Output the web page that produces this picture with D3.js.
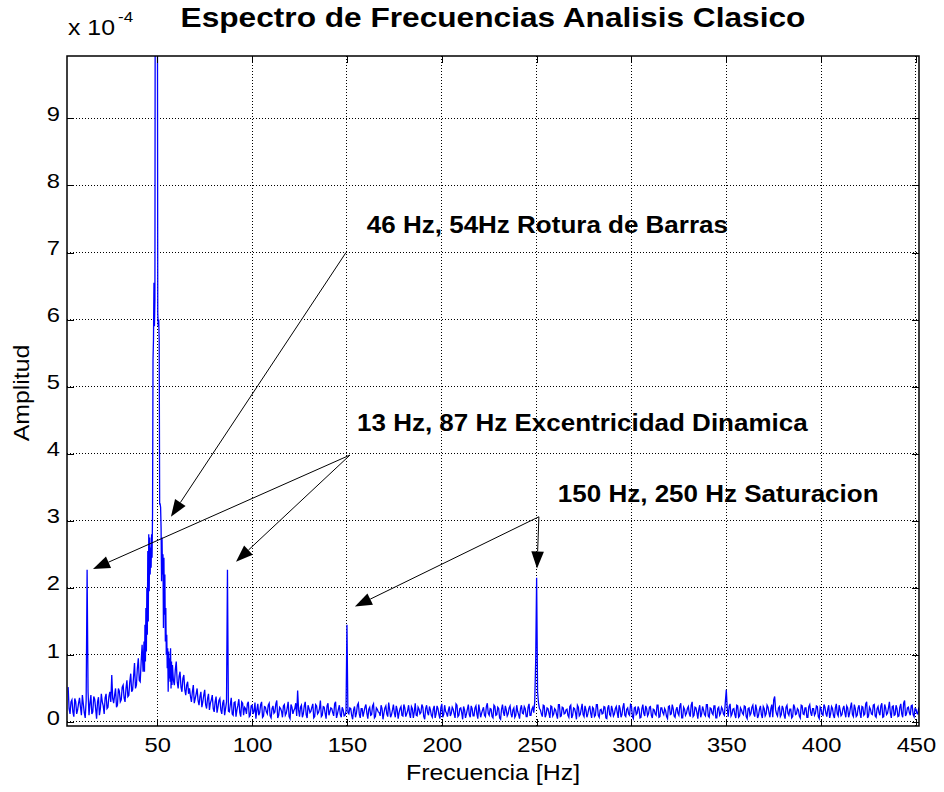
<!DOCTYPE html>
<html>
<head>
<meta charset="utf-8">
<script src="https://cdn.jsdelivr.net/npm/d3@7"></script>
<style>
    body { margin: 0; background: #fff; }
    text { font-family: "Liberation Sans", Arial, sans-serif; fill: #000; }
</style>
</head>
<body>
<svg id="vis" width="944" height="792"></svg>
<script>

////////// data //////////

// axis limits and ticks (amplitude in units of 1e-4)
var xLimits = [2.4, 451.6];
var yLimits = [-0.06, 9.93];
var xTicks = [50, 100, 150, 200, 250, 300, 350, 400, 450];
var yTicks = [0, 1, 2, 3, 4, 5, 6, 7, 8, 9];

// spectrum below the supply peak, 1 Hz bins from 3 Hz
var lowStartHz = 3;
var lowAmp = [
    0.52, 0.12, 0.33, 0.08, 0.30, 0.18, 0.36, 0.10, 0.27, 0.06,
    2.27, 0.10, 0.40, 0.15, 0.34, 0.05, 0.37, 0.20, 0.30, 0.12,
    0.42, 0.22, 0.45, 0.70, 0.28, 0.50, 0.25, 0.46, 0.33, 0.55,
    0.30, 0.62, 0.40, 0.72, 0.48, 0.88, 0.55, 0.95, 0.60, 1.15
];
// same range, the half-Hz bins from 3.5 Hz
var lowMidStartHz = 3.5;
var lowMidAmp = [
    0.20, 0.30, 0.15, 0.35, 0.12, 0.28, 0.22, 0.40, 0.14, 0.32,
    0.45, 0.28, 0.12, 0.38, 0.20, 0.30, 0.10, 0.42, 0.24, 0.36,
    0.20, 0.38, 0.30, 0.35, 0.40, 0.22, 0.50, 0.30, 0.52, 0.36,
    0.50, 0.38, 0.60, 0.45, 0.68, 0.50, 0.80, 0.62, 0.90, 0.75
];

// supply peak region, 0.25 Hz bins from 43 Hz
var peakStartHz = 43, peakStepHz = 0.25;
var peakAmp = [
    1.20, 0.75, 1.45, 0.90, 1.70, 1.05, 2.00, 1.30,
    2.55, 1.50, 2.80, 1.95, 2.75, 2.20, 2.60, 2.30,
    2.80, 2.45, 3.10, 5.40, 5.70, 6.55, 5.90, 6.30,
    14.0, 22.0, 25.0, 20.0, 13.0, 6.10, 5.90, 6.00,
    5.70, 3.25, 3.25, 3.20, 2.90, 2.10, 2.75, 2.20,
    2.50, 1.40, 2.45, 1.60, 2.20, 1.20, 1.70, 1.00,
    1.30, 0.80, 1.10, 0.45, 1.05, 0.65, 0.95, 0.60,
    1.10, 0.50, 0.90, 0.55
];

// rest of the spectrum, 1 Hz bins from 58 Hz
var highStartHz = 58;
var highAmp = [
    0.85, 0.55, 0.90, 0.50, 0.75, 0.45, 0.70, 0.40, 0.60, 0.50,
    0.30, 0.55, 0.35, 0.50, 0.25, 0.45, 0.30, 0.48, 0.20, 0.42,
    0.28, 0.40, 0.15, 0.38, 0.22, 0.35, 0.12, 0.33, 0.20, 2.27,
    0.15, 0.36, 0.10, 0.30, 0.18, 0.34, 0.08, 0.28, 0.22, 0.12,
    0.30, 0.10, 0.25, 0.16, 0.05, 0.27, 0.14, 0.30, 0.09, 0.22,
    0.12, 0.28, 0.06, 0.24, 0.15, 0.32, 0.10, 0.20, 0.07, 0.26,
    0.13, 0.30, 0.05, 0.22, 0.17, 0.28, 0.47, 0.08, 0.25, 0.12,
    0.30, 0.06, 0.20, 0.16, 0.27, 0.08, 0.24, 0.14, 0.32, 0.10,
    0.22, 0.05, 0.28, 0.15, 0.20, 0.09, 0.30, 0.12, 0.25, 0.07,
    0.18, 0.10, 1.45, 0.12, 0.20, 0.04, 0.23, 0.13, 0.28, 0.06,
    0.20, 0.15, 0.26, 0.05, 0.22, 0.11, 0.27, 0.08, 0.19, 0.14,
    0.25, 0.04, 0.21, 0.12, 0.29, 0.07, 0.18, 0.13, 0.24, 0.05,
    0.20, 0.10, 0.26, 0.08, 0.17, 0.12, 0.23, 0.06, 0.28, 0.09,
    0.19, 0.14, 0.22, 0.04, 0.25, 0.10, 0.18, 0.07, 0.24, 0.12,
    0.20, 0.05, 0.27, 0.11, 0.16, 0.08, 0.23, 0.13, 0.19, 0.06,
    0.25, 0.10, 0.21, 0.04, 0.18, 0.12, 0.26, 0.07, 0.20, 0.09,
    0.24, 0.05, 0.17, 0.13, 0.22, 0.08, 0.28, 0.10, 0.19, 0.06,
    0.23, 0.11, 0.20, 0.04, 0.26, 0.09, 0.18, 0.12, 0.24, 0.07,
    0.21, 0.10, 0.16, 0.05, 0.25, 0.12, 0.20, 0.08, 0.27, 0.10,
    0.22, 0.30, 2.15, 0.28, 0.18, 0.08, 0.24, 0.11, 0.20, 0.06,
    0.23, 0.12, 0.18, 0.05, 0.26, 0.09, 0.21, 0.13, 0.19, 0.07,
    0.25, 0.10, 0.20, 0.04, 0.22, 0.11, 0.27, 0.08, 0.18, 0.12,
    0.24, 0.06, 0.20, 0.10, 0.26, 0.07, 0.19, 0.13, 0.22, 0.05,
    0.25, 0.09, 0.18, 0.12, 0.23, 0.06, 0.20, 0.11, 0.28, 0.08,
    0.21, 0.10, 0.24, 0.05, 0.22, 0.13, 0.19, 0.07, 0.26, 0.09,
    0.20, 0.12, 0.23, 0.06, 0.18, 0.10, 0.25, 0.08, 0.21, 0.11,
    0.17, 0.05, 0.24, 0.12, 0.20, 0.07, 0.22, 0.10, 0.28, 0.06,
    0.19, 0.13, 0.23, 0.08, 0.30, 0.10, 0.21, 0.05, 0.25, 0.12,
    0.18, 0.09, 0.26, 0.07, 0.20, 0.11, 0.24, 0.06, 0.22, 0.13,
    0.19, 0.10, 0.48, 0.08, 0.27, 0.12, 0.20, 0.06, 0.24, 0.09,
    0.18, 0.11, 0.23, 0.05, 0.21, 0.13, 0.25, 0.08, 0.19, 0.10,
    0.24, 0.06, 0.20, 0.12, 0.22, 0.07, 0.26, 0.33, 0.18, 0.09,
    0.23, 0.11, 0.20, 0.05, 0.25, 0.10, 0.19, 0.08, 0.22, 0.12,
    0.18, 0.06, 0.24, 0.11, 0.21, 0.07, 0.26, 0.09, 0.20, 0.13,
    0.23, 0.05, 0.19, 0.10, 0.22, 0.08, 0.25, 0.12, 0.20, 0.06,
    0.27, 0.09, 0.18, 0.11, 0.24, 0.07, 0.21, 0.13, 0.29, 0.08,
    0.20, 0.10, 0.25, 0.06, 0.22, 0.12, 0.30, 0.09, 0.19, 0.11,
    0.26, 0.07, 0.23, 0.10, 0.28, 0.08, 0.21, 0.13, 0.30, 0.06,
    0.24, 0.11, 0.20, 0.09, 0.27, 0.07, 0.32, 0.12, 0.22, 0.10,
    0.25, 0.08, 0.19, 0.12
];
// same range, the half-Hz bins from 58.5 Hz
var highMidStartHz = 58.5;
var highMidAmp = [
    0.62, 0.78, 0.60, 0.68, 0.52, 0.65, 0.48, 0.55, 0.42, 0.38,
    0.45, 0.28, 0.42, 0.32, 0.38, 0.22, 0.40, 0.26, 0.35, 0.18,
    0.33, 0.20, 0.30, 0.14, 0.32, 0.18, 0.28, 0.10, 0.30, 0.16,
    0.26, 0.12, 0.29, 0.08, 0.25, 0.14, 0.30, 0.10, 0.20, 0.27,
    0.08, 0.24, 0.12, 0.29, 0.18, 0.10, 0.26, 0.07, 0.23, 0.15,
    0.25, 0.09, 0.20, 0.13, 0.27, 0.06, 0.22, 0.16, 0.24, 0.10,
    0.21, 0.08, 0.26, 0.12, 0.20, 0.09, 0.18, 0.22, 0.07, 0.24,
    0.11, 0.25, 0.14, 0.22, 0.06, 0.26, 0.12, 0.20, 0.08, 0.23,
    0.13, 0.24, 0.10, 0.21, 0.14, 0.27, 0.06, 0.19, 0.11, 0.22,
    0.09, 0.16, 0.14, 0.21, 0.10, 0.18, 0.07, 0.25, 0.12, 0.20,
    0.08, 0.22, 0.13, 0.19, 0.10, 0.24, 0.06, 0.21, 0.15, 0.09,
    0.20, 0.13, 0.24, 0.08, 0.19, 0.11, 0.26, 0.07, 0.18, 0.14,
    0.23, 0.09, 0.21, 0.12, 0.25, 0.06, 0.20, 0.15, 0.10, 0.22,
    0.12, 0.26, 0.08, 0.20, 0.14, 0.23, 0.10, 0.19, 0.06, 0.24,
    0.11, 0.21, 0.07, 0.25, 0.13, 0.18, 0.09, 0.22, 0.12, 0.27,
    0.08, 0.20, 0.14, 0.23, 0.06, 0.19, 0.11, 0.24, 0.09, 0.21,
    0.12, 0.26, 0.07, 0.18, 0.10, 0.23, 0.13, 0.20, 0.08, 0.25,
    0.10, 0.22, 0.06, 0.19, 0.14, 0.24, 0.09, 0.21, 0.12, 0.18,
    0.07, 0.25, 0.11, 0.20, 0.13, 0.23, 0.08, 0.22, 0.10, 0.19,
    0.14, 0.90, 0.45, 0.20, 0.12, 0.25, 0.07, 0.21, 0.13, 0.24,
    0.09, 0.20, 0.11, 0.26, 0.08, 0.22, 0.12, 0.18, 0.10, 0.23,
    0.06, 0.21, 0.14, 0.25, 0.09, 0.19, 0.11, 0.24, 0.07, 0.20,
    0.13, 0.22, 0.08, 0.26, 0.10, 0.18, 0.12, 0.23, 0.06, 0.21,
    0.11, 0.24, 0.09, 0.20, 0.14, 0.25, 0.07, 0.22, 0.10, 0.19,
    0.12, 0.26, 0.08, 0.21, 0.11, 0.23, 0.06, 0.20, 0.13, 0.24,
    0.09, 0.22, 0.10, 0.19, 0.12, 0.25, 0.07, 0.21, 0.14, 0.20,
    0.08, 0.23, 0.11, 0.26, 0.09, 0.18, 0.13, 0.24, 0.06, 0.22,
    0.10, 0.20, 0.12, 0.25, 0.08, 0.22, 0.14, 0.19, 0.07, 0.23,
    0.11, 0.26, 0.09, 0.21, 0.13, 0.24, 0.06, 0.20, 0.10, 0.22,
    0.12, 0.30, 0.20, 0.23, 0.09, 0.19, 0.11, 0.25, 0.07, 0.21,
    0.13, 0.24, 0.08, 0.20, 0.10, 0.22, 0.12, 0.26, 0.06, 0.19,
    0.11, 0.23, 0.09, 0.25, 0.14, 0.20, 0.07, 0.38, 0.12, 0.21,
    0.08, 0.24, 0.10, 0.22, 0.13, 0.19, 0.06, 0.26, 0.11, 0.20,
    0.09, 0.25, 0.12, 0.21, 0.07, 0.23, 0.14, 0.20, 0.10, 0.24,
    0.08, 0.22, 0.11, 0.26, 0.13, 0.19, 0.06, 0.23, 0.10, 0.21,
    0.12, 0.25, 0.09, 0.20, 0.14, 0.24, 0.07, 0.22, 0.11, 0.26,
    0.08, 0.21, 0.13, 0.23, 0.10, 0.27, 0.06, 0.22, 0.12, 0.25,
    0.09, 0.20, 0.14, 0.24, 0.07, 0.26, 0.11, 0.21, 0.13, 0.23,
    0.10, 0.25, 0.08, 0.22, 0.12, 0.28, 0.09, 0.21, 0.14, 0.24,
    0.11, 0.20, 0.13, 0.22
];

// annotations (data coordinates)
var notes = [
    {text: "46 Hz, 54Hz Rotura de Barras", f: 160.5, a: 7.29},
    {text: "13 Hz, 87 Hz Excentricidad Dinamica", f: 155.3, a: 4.34},
    {text: "150 Hz, 250 Hz Saturacion", f: 261.2, a: 3.28}
];
var arrows = [
    {from: [149.5, 7.00], to: [57.2, 3.06]},
    {from: [151.6, 3.98], to: [16.1, 2.28]},
    {from: [151.6, 3.98], to: [91.5, 2.39]},
    {from: [251.2, 3.06], to: [154.2, 1.72]},
    {from: [251.2, 3.06], to: [250.2, 2.29]}
];

////////// setup //////////

var stretch = 1.13;   // text in the reference is a bit wider than Arial

var margin = {top: 56, right: 25, bottom: 66, left: 67},
    width = 944 - margin.left - margin.right,
    height = 792 - margin.top - margin.bottom;

var svg = d3.select("#vis");
var g = svg.append("g")
    .attr("transform", "translate(" + margin.left + "," + margin.top + ")");

var x = d3.scaleLinear().domain(xLimits).range([0, width]);
var y = d3.scaleLinear().domain(yLimits).range([height, 0]);

function widen(sel) {
    sel.each(function () {
        var w = this.getComputedTextLength();
        d3.select(this)
            .attr("textLength", w * stretch)
            .attr("lengthAdjust", "spacingAndGlyphs");
    });
}

// merge the pieces of the spectrum, ordered by frequency
var spectrum = [];
function addBins(start, step, amps) {
    amps.forEach(function (a, i) {
        spectrum.push({f: start + i * step, a: a});
    });
}
addBins(lowStartHz, 1, lowAmp);
addBins(lowMidStartHz, 1, lowMidAmp);
addBins(peakStartHz, peakStepHz, peakAmp);
addBins(highStartHz, 1, highAmp);
addBins(highMidStartHz, 1, highMidAmp);
spectrum.sort(function (p, q) { return p.f - q.f; });

////////// grid //////////

g.append("g").selectAll("line")
    .data(xTicks)
    .enter().append("line")
    .attr("x1", x).attr("x2", x)
    .attr("y1", 0).attr("y2", height)
    .attr("stroke", "#000")
    .attr("stroke-dasharray", "1,2")
    .attr("shape-rendering", "crispEdges");

g.append("g").selectAll("line")
    .data(yTicks)
    .enter().append("line")
    .attr("x1", 0).attr("x2", width)
    .attr("y1", y).attr("y2", y)
    .attr("stroke", "#000")
    .attr("stroke-dasharray", "1,2")
    .attr("shape-rendering", "crispEdges");

////////// spectrum //////////

g.append("clipPath").attr("id", "clip")
    .append("rect").attr("width", width).attr("height", height);

var line = d3.line()
    .x(function (d) { return x(d.f); })
    .y(function (d) { return y(d.a); });

g.append("path")
    .datum(spectrum)
    .attr("clip-path", "url(#clip)")
    .attr("fill", "none")
    .attr("stroke", "#0000ff")
    .attr("stroke-width", 1.3)
    .attr("d", line);

////////// axes //////////

var xAxis = g.append("g")
    .attr("transform", "translate(0," + height + ")")
    .call(d3.axisBottom(x).tickValues(xTicks).tickSizeInner(-7).tickSizeOuter(0).tickPadding(11));
var yAxis = g.append("g")
    .call(d3.axisLeft(y).tickValues(yTicks).tickSizeInner(-7).tickSizeOuter(0).tickPadding(7));
g.append("g")
    .call(d3.axisTop(x).tickValues(xTicks).tickSizeInner(-7).tickSizeOuter(0).tickFormat(""));
g.append("g")
    .attr("transform", "translate(" + width + ",0)")
    .call(d3.axisRight(y).tickValues(yTicks).tickSizeInner(-7).tickSizeOuter(0).tickFormat(""));

g.selectAll(".domain").remove();
g.selectAll(".tick line").attr("stroke", "#000").attr("shape-rendering", "crispEdges");
g.selectAll(".tick text")
    .style("font-family", "'Liberation Sans', Arial, sans-serif")
    .attr("font-size", 21)
    .attr("fill", "#000");
yAxis.selectAll(".tick text").attr("dy", "0.1em");
widen(g.selectAll(".tick text"));

g.append("rect")
    .attr("width", width).attr("height", height)
    .attr("fill", "none")
    .attr("stroke", "#000")
    .attr("stroke-width", 1.5);

////////// annotations //////////

var headLen = 17, headHalf = 6.3;

arrows.forEach(function (d) {
    var x0 = x(d.from[0]), y0 = y(d.from[1]),
        x1 = x(d.to[0]), y1 = y(d.to[1]);
    var len = Math.sqrt((x1 - x0) * (x1 - x0) + (y1 - y0) * (y1 - y0));
    var ux = (x1 - x0) / len, uy = (y1 - y0) / len;
    var bx = x1 - ux * headLen, by = y1 - uy * headLen;
    g.append("line")
        .attr("x1", x0).attr("y1", y0)
        .attr("x2", bx).attr("y2", by)
        .attr("stroke", "#000")
        .attr("stroke-width", 1);
    g.append("path")
        .attr("d", "M" + x1 + "," + y1 +
            "L" + (bx - uy * headHalf) + "," + (by + ux * headHalf) +
            "L" + (bx + uy * headHalf) + "," + (by - ux * headHalf) + "Z")
        .attr("fill", "#000");
});

var noteText = g.selectAll(".note")
    .data(notes)
    .enter().append("text")
    .attr("class", "note")
    .attr("x", function (d) { return x(d.f); })
    .attr("y", function (d) { return y(d.a); })
    .attr("font-size", 23)
    .attr("font-weight", "bold")
    .text(function (d) { return d.text; });
widen(noteText);

////////// titles //////////

var title = svg.append("text")
    .attr("x", margin.left + width / 2)
    .attr("y", 27)
    .attr("text-anchor", "middle")
    .attr("font-size", 28)
    .attr("font-weight", "bold")
    .text("Espectro de Frecuencias Analisis Clasico");
widen(title);

var xLabel = svg.append("text")
    .attr("x", margin.left + width / 2)
    .attr("y", 780)
    .attr("text-anchor", "middle")
    .attr("font-size", 22)
    .text("Frecuencia [Hz]");
widen(xLabel);

var yLabel = svg.append("text")
    .attr("transform", "translate(29," + (margin.top + height / 2 + 2) + ") rotate(-90)")
    .attr("text-anchor", "middle")
    .attr("font-size", 22)
    .text("Amplitud");
widen(yLabel);

var expo = svg.append("text")
    .attr("x", margin.left + 1)
    .attr("y", 35)
    .attr("font-size", 22)
    .text("x 10");
widen(expo);

var expoSup = svg.append("text")
    .attr("x", margin.left + 51)
    .attr("y", 22)
    .attr("font-size", 15)
    .text("-4");
widen(expoSup);

</script>
</body>
</html>
